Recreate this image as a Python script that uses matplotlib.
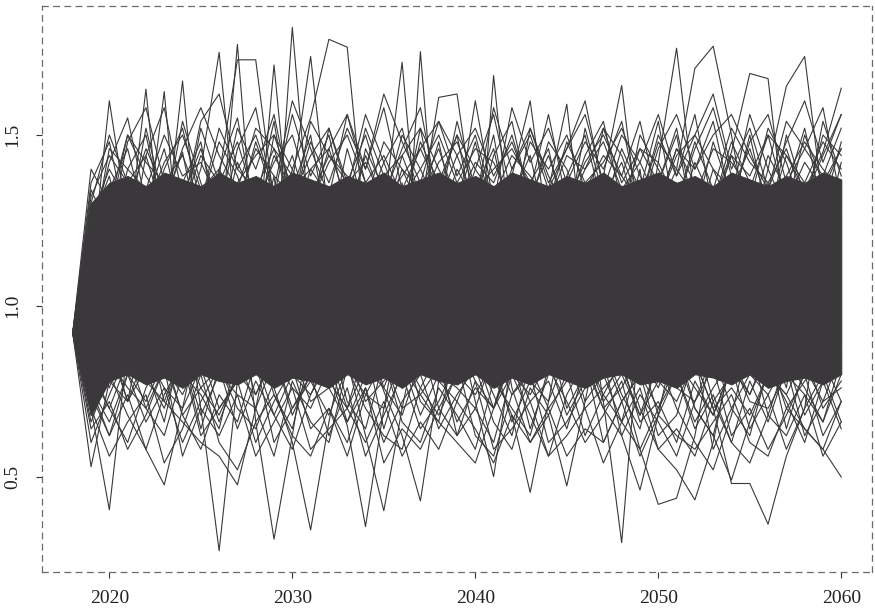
import matplotlib
matplotlib.use("Agg")
import matplotlib.pyplot as plt

years = list(range(2018, 2061))
x_ticks = [2020, 2030, 2040, 2050, 2060]
y_ticks = [0.5, 1.0, 1.5]
y_tick_labels = ["0.5", "1.0", "1.5"]

# dense core of the simulated paths (solid dark band)
core_lo = [0.92, 0.68, 0.78, 0.80, 0.77, 0.79, 0.76, 0.80, 0.78, 0.77, 0.80, 0.76, 0.79, 0.78, 0.76, 0.80, 0.77, 0.79, 0.76, 0.80, 0.78, 0.77, 0.80, 0.76, 0.79, 0.77, 0.80, 0.78, 0.76, 0.79, 0.80, 0.77, 0.78, 0.76, 0.80, 0.79, 0.77, 0.80, 0.76, 0.78, 0.79, 0.77, 0.80]
core_hi = [0.92, 1.30, 1.36, 1.38, 1.35, 1.39, 1.37, 1.35, 1.39, 1.36, 1.38, 1.35, 1.39, 1.37, 1.35, 1.38, 1.36, 1.39, 1.35, 1.37, 1.39, 1.36, 1.38, 1.35, 1.39, 1.37, 1.35, 1.38, 1.36, 1.39, 1.35, 1.37, 1.39, 1.36, 1.38, 1.35, 1.39, 1.37, 1.35, 1.38, 1.36, 1.39, 1.37]

# individual paths (extremes and fringes)
p01 = [0.92, 1.10, 1.60, 1.25, 1.05, 1.30, 0.95, 1.20, 0.88, 1.15, 1.32, 1.05, 1.815, 1.20, 0.98, 1.25, 1.10, 0.90, 1.18, 1.35, 1.02, 1.22, 0.86, 1.12, 1.30, 0.97, 1.15, 1.05, 1.28, 0.92, 1.18, 1.40, 1.02, 1.20, 0.94, 1.12, 1.33, 1.00, 1.24, 0.88, 1.10, 1.27, 1.05]
p02 = [0.92, 1.22, 0.95, 1.18, 1.634, 1.10, 0.85, 1.28, 1.02, 0.90, 1.15, 1.38, 0.97, 1.12, 0.82, 1.25, 1.05, 1.30, 0.94, 1.744, 1.08, 0.88, 1.20, 1.02, 1.35, 0.92, 1.14, 0.80, 1.06, 0.72, 0.307, 0.95, 1.22, 1.05, 0.86, 1.30, 1.10, 0.98, 1.26, 1.04, 0.90, 1.18, 1.02]
p03 = [0.92, 0.85, 1.12, 0.95, 1.20, 1.627, 1.05, 0.70, 0.283, 0.78, 1.05, 1.22, 0.96, 1.30, 1.08, 0.90, 1.16, 1.02, 1.36, 0.94, 1.10, 1.26, 0.98, 1.674, 1.15, 0.85, 1.05, 1.24, 0.92, 1.12, 1.32, 1.00, 0.86, 1.18, 1.08, 0.95, 1.28, 1.12, 0.90, 1.06, 1.22, 0.98, 1.15]
p04 = [0.92, 1.05, 0.88, 1.25, 1.00, 1.18, 1.658, 1.10, 0.92, 1.20, 0.66, 0.317, 0.62, 0.95, 1.18, 1.04, 1.30, 0.90, 1.12, 1.00, 1.24, 0.86, 1.08, 1.30, 0.96, 1.14, 1.02, 1.28, 0.94, 1.18, 1.05, 0.88, 1.20, 1.36, 1.08, 1.30, 1.45, 1.68, 1.665, 1.20, 1.02, 0.92, 1.10]
p05 = [0.92, 1.18, 1.00, 1.32, 1.12, 0.90, 1.25, 1.40, 1.742, 1.20, 0.98, 1.14, 0.88, 1.06, 0.80, 0.65, 0.354, 0.70, 0.98, 1.16, 1.05, 1.30, 0.92, 1.10, 1.24, 0.98, 1.35, 1.08, 0.90, 1.16, 1.02, 1.28, 0.95, 1.12, 1.22, 0.88, 1.04, 1.18, 0.96, 1.30, 1.10, 0.94, 1.26]
p06 = [0.92, 0.98, 1.28, 1.05, 0.92, 1.20, 1.00, 1.30, 1.15, 1.765, 1.10, 0.90, 1.22, 1.02, 1.34, 0.96, 1.12, 1.04, 0.88, 1.18, 1.26, 0.95, 0.72, 0.50, 0.85, 1.10, 1.20, 0.94, 1.32, 1.06, 0.90, 1.15, 1.28, 1.00, 1.12, 0.86, 1.22, 1.04, 1.36, 0.98, 1.14, 1.08, 0.90]
p07 = [0.92, 0.70, 0.403, 0.88, 1.10, 0.95, 1.22, 1.05, 1.38, 1.72, 1.72, 1.30, 1.05, 0.92, 1.15, 1.28, 0.98, 1.10, 1.24, 0.90, 1.06, 1.18, 1.32, 0.96, 1.12, 1.00, 0.84, 1.14, 1.26, 1.02, 1.20, 0.92, 1.08, 1.30, 0.98, 1.16, 1.04, 0.88, 1.22, 1.10, 1.34, 1.00, 1.18]
p08 = [0.92, 1.12, 0.90, 1.08, 1.26, 1.00, 1.14, 0.86, 1.20, 1.32, 1.10, 1.705, 1.15, 0.95, 1.24, 1.06, 0.90, 0.75, 0.62, 0.429, 0.78, 1.02, 1.18, 0.96, 1.28, 1.10, 1.34, 1.59, 1.12, 0.94, 1.06, 1.22, 1.00, 0.88, 1.16, 1.30, 1.05, 0.92, 1.10, 1.24, 0.98, 1.14, 1.32]
p09 = [0.92, 1.02, 1.20, 0.92, 1.05, 1.30, 0.96, 1.12, 1.04, 0.88, 1.24, 1.10, 1.36, 1.73, 1.25, 1.00, 1.14, 1.28, 0.94, 1.08, 0.90, 1.16, 1.04, 1.26, 0.98, 1.12, 1.30, 1.02, 0.90, 1.20, 1.08, 0.96, 1.22, 1.05, 0.84, 0.70, 0.48, 0.48, 0.361, 0.56, 0.70, 1.05, 0.96]
p10 = [0.92, 1.25, 0.98, 1.15, 0.88, 1.06, 1.22, 1.00, 1.30, 1.08, 0.95, 1.18, 1.40, 1.55, 1.78, 1.757, 1.20, 0.96, 1.10, 1.02, 1.24, 0.90, 1.12, 0.80, 0.68, 0.454, 0.72, 1.00, 1.16, 1.28, 0.96, 1.10, 1.04, 1.20, 0.92, 1.14, 1.32, 1.06, 0.94, 1.18, 1.02, 1.26, 1.10]
p11 = [0.92, 0.90, 1.06, 1.30, 1.02, 0.92, 1.15, 1.26, 0.98, 1.10, 1.34, 0.96, 1.08, 1.20, 0.90, 1.16, 1.04, 1.28, 1.713, 1.12, 0.94, 1.06, 1.24, 1.00, 1.14, 0.88, 1.02, 1.18, 0.84, 0.70, 0.62, 0.461, 0.68, 0.92, 1.10, 1.25, 0.98, 1.14, 1.02, 1.30, 0.95, 1.08, 1.20]
p12 = [0.92, 1.08, 1.30, 0.98, 1.12, 0.94, 1.20, 1.04, 0.86, 1.16, 1.00, 0.76, 0.60, 0.344, 0.66, 0.92, 1.10, 1.24, 1.40, 1.28, 1.61, 1.62, 1.25, 0.98, 1.12, 1.04, 1.22, 0.96, 1.10, 1.30, 1.02, 1.15, 0.90, 1.08, 1.26, 1.00, 0.92, 1.16, 1.30, 1.04, 0.88, 1.12, 1.24]
p13 = [0.92, 1.15, 0.94, 1.06, 1.22, 1.00, 0.90, 1.18, 1.06, 1.28, 0.96, 1.12, 1.00, 1.24, 1.06, 0.88, 1.20, 1.02, 1.14, 1.30, 1.08, 1.26, 1.60, 1.30, 1.38, 1.60, 1.20, 1.00, 0.86, 0.74, 0.66, 0.58, 0.419, 0.437, 0.62, 0.90, 1.08, 1.24, 0.98, 1.10, 1.32, 1.05, 0.94]
p14 = [0.92, 0.80, 1.02, 1.18, 0.94, 1.24, 1.06, 0.92, 1.14, 1.00, 1.26, 1.08, 0.90, 1.04, 1.20, 0.84, 0.62, 0.40, 0.70, 0.96, 1.12, 1.00, 1.22, 1.06, 0.94, 1.16, 1.04, 1.30, 1.12, 1.38, 1.645, 1.20, 0.98, 1.10, 1.26, 1.02, 0.90, 1.14, 1.06, 1.24, 0.96, 1.18, 1.04]
p15 = [0.92, 0.76, 0.62, 0.74, 0.58, 0.476, 0.70, 0.95, 1.10, 0.98, 1.20, 1.06, 1.30, 0.94, 1.12, 1.02, 1.24, 0.96, 1.08, 1.18, 0.92, 1.10, 1.26, 1.04, 0.90, 1.16, 1.00, 1.22, 1.08, 0.96, 1.30, 1.12, 1.42, 1.754, 1.30, 1.06, 1.18, 0.94, 1.10, 1.26, 1.02, 1.14, 0.98]
p16 = [0.92, 1.04, 1.16, 0.96, 1.28, 1.08, 0.90, 1.22, 1.00, 1.12, 0.88, 1.18, 1.04, 1.30, 0.96, 1.10, 1.20, 0.92, 1.06, 1.26, 1.00, 1.14, 0.94, 1.08, 0.76, 0.60, 0.68, 0.473, 0.72, 0.98, 1.14, 1.02, 1.28, 1.40, 1.695, 1.76, 1.50, 1.20, 1.04, 1.16, 0.92, 1.10, 1.22]
p17 = [0.92, 1.20, 1.04, 0.90, 1.14, 1.26, 1.00, 1.10, 1.32, 0.98, 1.08, 1.20, 0.94, 1.16, 1.04, 1.28, 0.92, 1.12, 1.00, 1.22, 1.06, 0.88, 1.16, 1.30, 1.02, 1.14, 0.96, 1.08, 1.24, 1.00, 0.86, 0.70, 0.58, 0.52, 0.432, 0.60, 0.86, 1.20, 1.40, 1.643, 1.73, 1.30, 1.12]
p18 = [0.92, 0.529, 0.78, 1.00, 1.16, 0.94, 1.08, 1.24, 0.98, 1.12, 1.02, 1.30, 1.10, 0.90, 1.06, 1.22, 1.00, 1.14, 0.92, 1.08, 1.26, 1.04, 0.96, 1.18, 1.10, 0.90, 1.24, 1.06, 1.34, 1.02, 1.12, 0.94, 1.20, 1.08, 1.30, 0.98, 1.16, 1.04, 1.28, 1.12, 1.34, 1.45, 1.637]
p19 = [0.92, 1.30, 1.10, 0.94, 1.20, 1.06, 1.32, 0.98, 1.16, 1.04, 1.24, 0.92, 1.10, 1.28, 1.00, 1.14, 1.34, 1.06, 0.96, 1.20, 1.10, 1.00, 1.24, 1.12, 0.94, 1.08, 1.22, 1.00, 1.16, 0.90, 1.08, 1.28, 1.04, 0.86, 0.70, 0.62, 0.49, 0.66, 0.80, 0.74, 0.64, 0.58, 0.499]
p20 = [0.92, 1.00, 0.84, 1.08, 0.94, 0.72, 0.66, 0.60, 0.56, 0.476, 0.70, 0.96, 1.12, 1.00, 1.22, 0.94, 1.08, 1.18, 1.02, 0.90, 1.14, 1.28, 1.04, 1.16, 0.96, 1.10, 1.26, 1.02, 0.88, 1.12, 1.20, 0.98, 0.84, 0.70, 0.60, 0.52, 0.68, 0.90, 1.06, 1.20, 0.98, 1.10, 0.92]
p21 = [0.92, 1.14, 0.90, 0.72, 0.98, 1.12, 0.86, 1.04, 1.18, 0.92, 1.08, 0.80, 1.02, 1.16, 0.88, 1.06, 0.94, 0.76, 0.90, 0.72, 0.66, 0.60, 0.54, 0.70, 0.88, 1.04, 0.92, 1.14, 1.00, 0.86, 1.10, 0.96, 0.78, 1.02, 0.90, 1.14, 0.84, 1.00, 0.92, 0.76, 1.06, 0.88, 1.02]

h1 = [0.92, 1.36, 1.48, 1.22, 1.52, 1.30, 1.45, 1.18, 1.40, 1.55, 1.26, 1.44, 1.34, 1.50, 1.20, 1.46, 1.28, 1.42, 1.52, 1.30, 1.48, 1.24, 1.40, 1.56, 1.32, 1.44, 1.20, 1.38, 1.50, 1.28, 1.46, 1.34, 1.54, 1.24, 1.42, 1.30, 1.48, 1.36, 1.22, 1.50, 1.32, 1.44, 1.56]
h2 = [0.92, 1.20, 1.42, 1.55, 1.30, 1.46, 1.24, 1.52, 1.36, 1.28, 1.48, 1.32, 1.56, 1.38, 1.50, 1.26, 1.44, 1.30, 1.50, 1.40, 1.28, 1.54, 1.34, 1.46, 1.22, 1.52, 1.38, 1.28, 1.44, 1.54, 1.30, 1.46, 1.36, 1.52, 1.26, 1.48, 1.32, 1.56, 1.40, 1.28, 1.50, 1.36, 1.46]
h3 = [0.92, 1.28, 1.18, 1.40, 1.50, 1.26, 1.54, 1.36, 1.22, 1.46, 1.58, 1.30, 1.44, 1.26, 1.52, 1.34, 1.56, 1.42, 1.28, 1.48, 1.36, 1.50, 1.24, 1.44, 1.54, 1.30, 1.48, 1.40, 1.26, 1.52, 1.44, 1.30, 1.50, 1.38, 1.56, 1.28, 1.44, 1.30, 1.52, 1.42, 1.26, 1.54, 1.38]
h4 = [0.92, 1.12, 1.34, 1.46, 1.24, 1.40, 1.52, 1.30, 1.48, 1.38, 1.20, 1.50, 1.40, 1.28, 1.46, 1.56, 1.36, 1.24, 1.44, 1.52, 1.40, 1.30, 1.48, 1.26, 1.40, 1.50, 1.34, 1.46, 1.56, 1.36, 1.24, 1.50, 1.40, 1.30, 1.46, 1.58, 1.38, 1.26, 1.44, 1.34, 1.52, 1.28, 1.48]
h5 = [0.92, 1.30, 1.50, 1.36, 1.44, 1.58, 1.32, 1.46, 1.28, 1.52, 1.40, 1.56, 1.30, 1.48, 1.36, 1.52, 1.40, 1.58, 1.34, 1.46, 1.54, 1.38, 1.50, 1.30, 1.58, 1.42, 1.52, 1.36, 1.48, 1.40, 1.54, 1.28, 1.46, 1.56, 1.40, 1.50, 1.56, 1.44, 1.34, 1.54, 1.46, 1.38, 1.52]
h6 = [0.92, 1.18, 1.26, 1.50, 1.38, 1.30, 1.46, 1.58, 1.44, 1.34, 1.52, 1.46, 1.28, 1.54, 1.44, 1.36, 1.50, 1.32, 1.46, 1.58, 1.30, 1.44, 1.52, 1.38, 1.48, 1.34, 1.56, 1.30, 1.42, 1.50, 1.38, 1.54, 1.30, 1.46, 1.40, 1.54, 1.30, 1.48, 1.56, 1.36, 1.46, 1.58, 1.30]
h7 = [0.92, 1.24, 1.38, 1.14, 1.44, 1.26, 1.36, 1.48, 1.20, 1.42, 1.30, 1.54, 1.22, 1.40, 1.32, 1.18, 1.46, 1.34, 1.26, 1.52, 1.24, 1.40, 1.30, 1.50, 1.20, 1.36, 1.46, 1.22, 1.52, 1.32, 1.42, 1.24, 1.36, 1.50, 1.22, 1.40, 1.28, 1.50, 1.26, 1.44, 1.34, 1.20, 1.42]
h8 = [0.92, 1.34, 1.22, 1.48, 1.58, 1.36, 1.28, 1.54, 1.62, 1.40, 1.50, 1.34, 1.60, 1.46, 1.32, 1.56, 1.40, 1.62, 1.48, 1.36, 1.54, 1.44, 1.30, 1.58, 1.40, 1.52, 1.36, 1.46, 1.60, 1.34, 1.50, 1.42, 1.56, 1.38, 1.50, 1.62, 1.40, 1.52, 1.34, 1.48, 1.60, 1.42, 1.56]
m1 = [0.92, 1.26, 1.40, 1.30, 1.46, 1.34, 1.28, 1.44, 1.36, 1.48, 1.30, 1.42, 1.50, 1.32, 1.44, 1.38, 1.30, 1.48, 1.40, 1.34, 1.46, 1.30, 1.42, 1.36, 1.50, 1.32, 1.44, 1.28, 1.40, 1.48, 1.34, 1.42, 1.30, 1.46, 1.36, 1.28, 1.44, 1.38, 1.50, 1.30, 1.42, 1.34, 1.46]
m2 = [0.92, 1.32, 1.44, 1.36, 1.28, 1.42, 1.50, 1.34, 1.40, 1.30, 1.46, 1.38, 1.32, 1.44, 1.52, 1.36, 1.42, 1.30, 1.38, 1.46, 1.34, 1.50, 1.40, 1.32, 1.44, 1.38, 1.30, 1.48, 1.36, 1.42, 1.52, 1.38, 1.30, 1.44, 1.50, 1.40, 1.34, 1.46, 1.30, 1.38, 1.48, 1.40, 1.34]
m3 = [0.92, 1.40, 1.30, 1.50, 1.42, 1.36, 1.44, 1.30, 1.52, 1.40, 1.34, 1.46, 1.38, 1.30, 1.42, 1.50, 1.36, 1.44, 1.32, 1.40, 1.50, 1.36, 1.46, 1.42, 1.30, 1.48, 1.40, 1.50, 1.34, 1.44, 1.38, 1.30, 1.48, 1.40, 1.32, 1.46, 1.42, 1.34, 1.50, 1.44, 1.36, 1.48, 1.40]
m4 = [0.92, 1.16, 1.46, 1.40, 1.34, 1.50, 1.38, 1.42, 1.30, 1.36, 1.44, 1.50, 1.34, 1.40, 1.46, 1.30, 1.52, 1.38, 1.44, 1.30, 1.42, 1.48, 1.34, 1.40, 1.46, 1.36, 1.30, 1.44, 1.40, 1.52, 1.36, 1.46, 1.42, 1.30, 1.48, 1.34, 1.52, 1.42, 1.36, 1.46, 1.30, 1.50, 1.44]

l1 = [0.92, 0.74, 0.62, 0.80, 0.66, 0.76, 0.60, 0.72, 0.82, 0.64, 0.78, 0.68, 0.58, 0.74, 0.84, 0.66, 0.76, 0.60, 0.72, 0.80, 0.64, 0.74, 0.82, 0.66, 0.58, 0.76, 0.68, 0.80, 0.62, 0.74, 0.84, 0.66, 0.72, 0.60, 0.78, 0.68, 0.82, 0.64, 0.74, 0.58, 0.70, 0.80, 0.66]
l2 = [0.92, 0.66, 0.80, 0.68, 0.58, 0.74, 0.84, 0.62, 0.70, 0.78, 0.60, 0.72, 0.82, 0.64, 0.70, 0.56, 0.74, 0.84, 0.66, 0.60, 0.76, 0.68, 0.58, 0.78, 0.70, 0.62, 0.82, 0.72, 0.60, 0.68, 0.78, 0.58, 0.70, 0.80, 0.64, 0.74, 0.60, 0.78, 0.66, 0.82, 0.62, 0.72, 0.76]
l3 = [0.92, 0.82, 0.70, 0.60, 0.76, 0.86, 0.68, 0.58, 0.74, 0.66, 0.84, 0.60, 0.70, 0.80, 0.62, 0.76, 0.56, 0.68, 0.80, 0.64, 0.72, 0.84, 0.62, 0.56, 0.74, 0.80, 0.60, 0.66, 0.76, 0.84, 0.62, 0.74, 0.66, 0.56, 0.72, 0.82, 0.62, 0.70, 0.58, 0.68, 0.80, 0.62, 0.72]
l4 = [0.92, 0.60, 0.74, 0.86, 0.70, 0.62, 0.80, 0.74, 0.64, 0.86, 0.70, 0.56, 0.78, 0.66, 0.60, 0.82, 0.70, 0.62, 0.58, 0.76, 0.86, 0.62, 0.70, 0.60, 0.80, 0.68, 0.56, 0.74, 0.84, 0.60, 0.72, 0.80, 0.62, 0.68, 0.86, 0.58, 0.70, 0.62, 0.82, 0.72, 0.60, 0.78, 0.64]
l5 = [0.92, 0.78, 0.88, 0.72, 0.82, 0.66, 0.90, 0.76, 0.68, 0.80, 0.92, 0.74, 0.64, 0.86, 0.78, 0.70, 0.88, 0.64, 0.82, 0.74, 0.66, 0.90, 0.78, 0.70, 0.86, 0.64, 0.80, 0.90, 0.72, 0.80, 0.66, 0.86, 0.76, 0.90, 0.70, 0.62, 0.84, 0.74, 0.88, 0.64, 0.82, 0.72, 0.86]
l6 = [0.92, 0.70, 0.56, 0.66, 0.74, 0.54, 0.64, 0.80, 0.60, 0.52, 0.66, 0.74, 0.62, 0.56, 0.70, 0.60, 0.76, 0.54, 0.64, 0.58, 0.70, 0.62, 0.78, 0.58, 0.64, 0.72, 0.56, 0.62, 0.70, 0.54, 0.66, 0.76, 0.58, 0.64, 0.56, 0.72, 0.60, 0.54, 0.68, 0.62, 0.74, 0.56, 0.66]
l7 = [0.92, 0.88, 0.76, 0.92, 0.80, 0.70, 0.86, 0.64, 0.82, 0.90, 0.74, 0.86, 0.68, 0.80, 0.92, 0.72, 0.64, 0.84, 0.76, 0.90, 0.70, 0.80, 0.86, 0.74, 0.62, 0.84, 0.92, 0.70, 0.80, 0.88, 0.74, 0.64, 0.86, 0.78, 0.92, 0.72, 0.80, 0.88, 0.68, 0.84, 0.76, 0.66, 0.80]
l8 = [0.92, 0.64, 0.72, 0.58, 0.68, 0.82, 0.56, 0.70, 0.62, 0.74, 0.56, 0.66, 0.76, 0.58, 0.64, 0.70, 0.60, 0.72, 0.56, 0.66, 0.58, 0.72, 0.64, 0.54, 0.68, 0.60, 0.70, 0.56, 0.64, 0.60, 0.72, 0.56, 0.68, 0.62, 0.58, 0.66, 0.74, 0.60, 0.56, 0.70, 0.64, 0.58, 0.72]
n1 = [0.92, 0.72, 0.84, 0.76, 0.70, 0.82, 0.74, 0.86, 0.70, 0.78, 0.84, 0.68, 0.80, 0.74, 0.86, 0.70, 0.82, 0.76, 0.68, 0.84, 0.78, 0.72, 0.86, 0.70, 0.80, 0.74, 0.84, 0.68, 0.78, 0.86, 0.72, 0.80, 0.70, 0.84, 0.76, 0.68, 0.82, 0.74, 0.86, 0.70, 0.78, 0.84, 0.72]
n2 = [0.92, 0.80, 0.70, 0.84, 0.78, 0.72, 0.86, 0.68, 0.80, 0.74, 0.70, 0.84, 0.76, 0.70, 0.82, 0.86, 0.72, 0.78, 0.84, 0.68, 0.80, 0.76, 0.70, 0.86, 0.74, 0.82, 0.70, 0.78, 0.86, 0.72, 0.80, 0.68, 0.84, 0.76, 0.72, 0.86, 0.70, 0.80, 0.74, 0.84, 0.68, 0.78, 0.82]
n3 = [0.92, 0.68, 0.78, 0.72, 0.86, 0.76, 0.70, 0.82, 0.66, 0.80, 0.74, 0.86, 0.70, 0.78, 0.68, 0.82, 0.74, 0.70, 0.86, 0.76, 0.68, 0.80, 0.74, 0.84, 0.66, 0.78, 0.72, 0.86, 0.70, 0.76, 0.82, 0.68, 0.78, 0.72, 0.84, 0.70, 0.76, 0.68, 0.80, 0.74, 0.86, 0.70, 0.78]
n4 = [0.92, 0.76, 0.66, 0.80, 0.72, 0.84, 0.68, 0.76, 0.82, 0.70, 0.64, 0.78, 0.86, 0.72, 0.76, 0.66, 0.80, 0.84, 0.70, 0.74, 0.82, 0.66, 0.76, 0.70, 0.84, 0.72, 0.78, 0.64, 0.82, 0.70, 0.76, 0.86, 0.68, 0.80, 0.66, 0.76, 0.84, 0.72, 0.70, 0.80, 0.74, 0.66, 0.84]

paths = [p01, p02, p03, p04, p05, p06, p07, p08, p09, p10, p11, p12, p13, p14,
         p15, p16, p17, p18, p19, p20, p21,
         h1, h2, h3, h4, h5, h6, h7, h8, m1, m2, m3, m4,
         l1, l2, l3, l4, l5, l6, l7, l8, n1, n2, n3, n4]

line_color = "#3a383a"
frame_color = "#6a6a6a"

plt.rcParams["font.family"] = ["Liberation Serif", "DejaVu Serif"]

fig = plt.figure(figsize=(8.75, 6.11), dpi=100)
ax = fig.add_axes([42 / 875, 1 - 572 / 611, 830 / 875, 566 / 611])

ax.fill_between(years, core_lo, core_hi, color=line_color, linewidth=0.75)
for p in paths:
    ax.plot(years, p, color=line_color, linewidth=0.8)

ax.set_xlim(2016.32, 2061.68)
ax.set_ylim(0.221, 1.8775)

ax.set_xticks(x_ticks)
ax.set_xticklabels([str(v) for v in x_ticks])
ax.set_yticks(y_ticks)
ax.set_yticklabels(y_tick_labels, rotation=90, va="center")

ax.tick_params(axis="both", direction="out", length=4, width=0.8,
               color="#333333", labelsize=14, labelcolor="#222222")
ax.tick_params(axis="x", pad=9)
ax.tick_params(axis="y", pad=11)

for s in ax.spines.values():
    s.set_linestyle((0, (4.5, 4.5)))
    s.set_linewidth(0.9)
    s.set_color(frame_color)

fig.savefig("out.png", dpi=100)
